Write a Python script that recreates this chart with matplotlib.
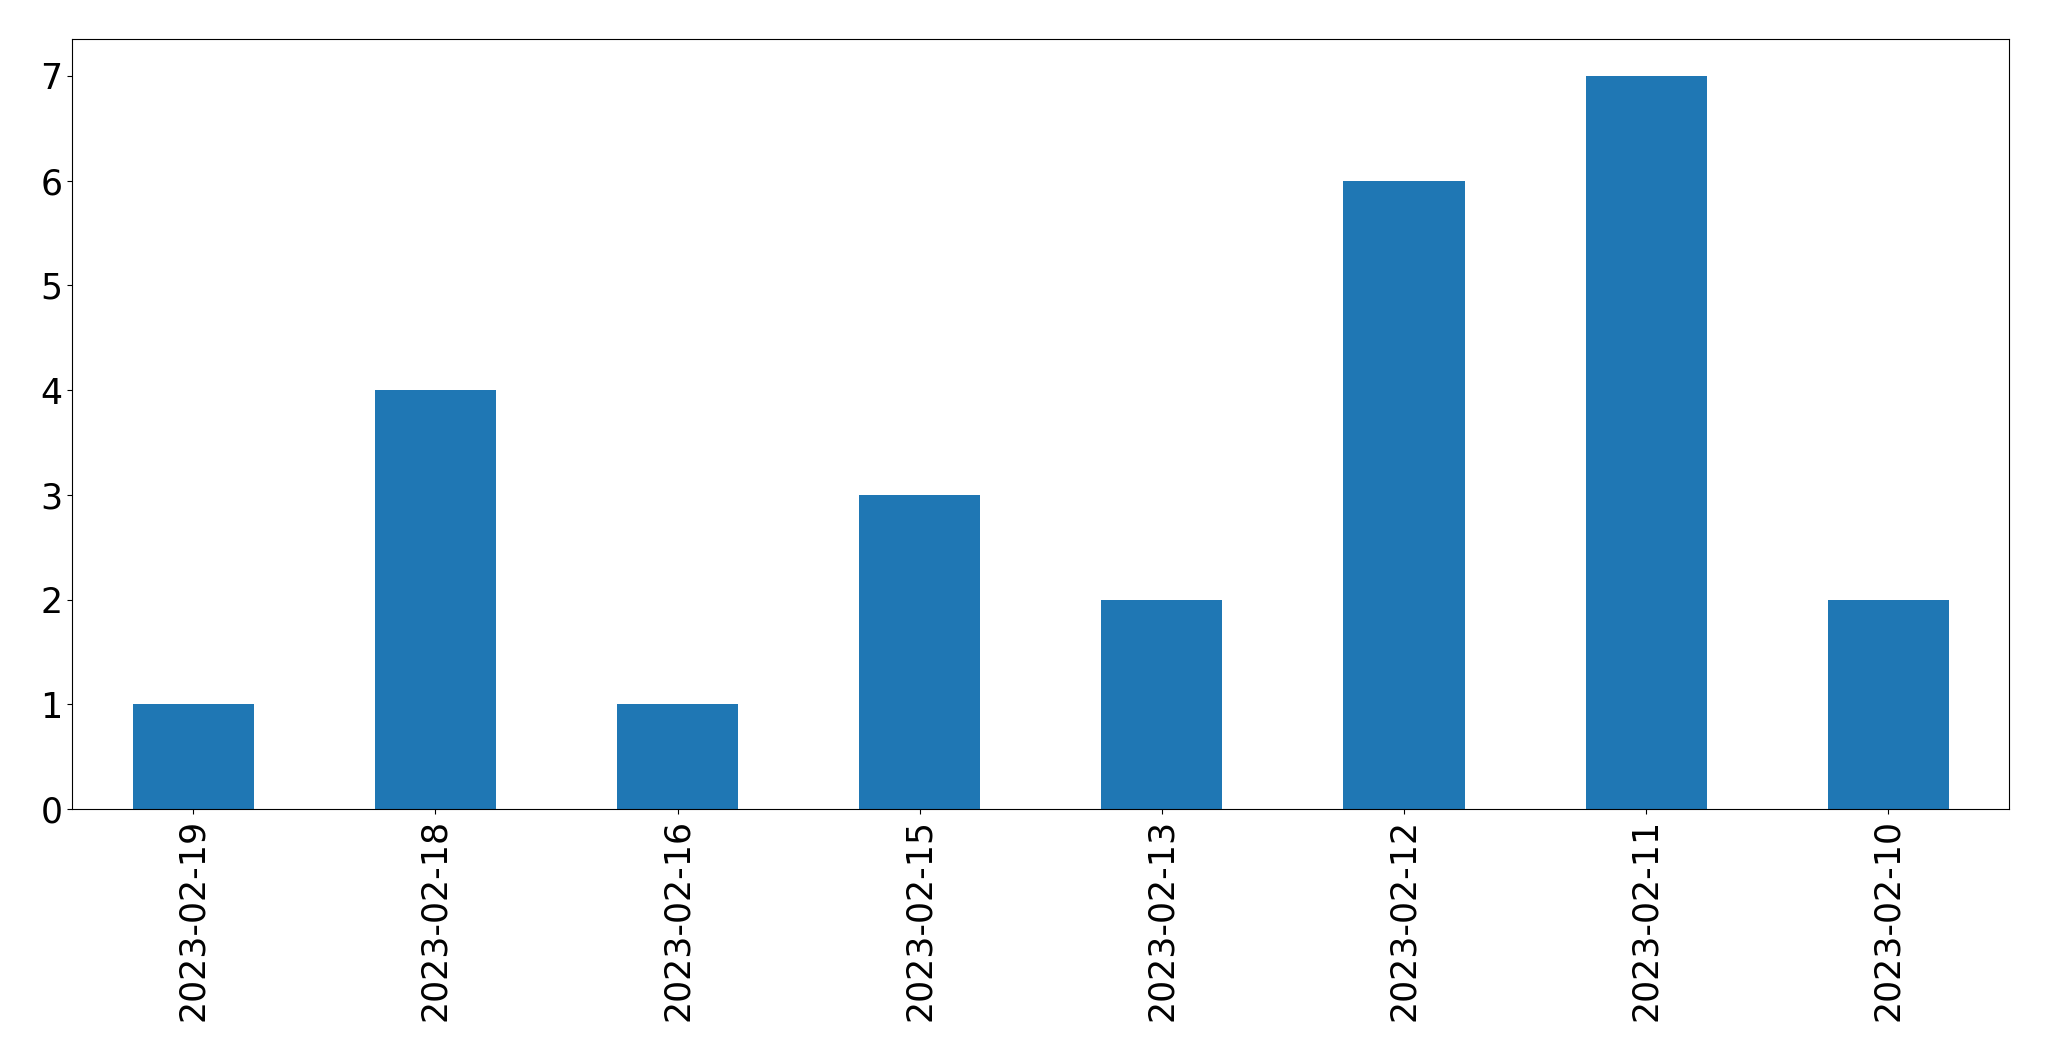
import matplotlib
matplotlib.use("Agg")
import matplotlib.pyplot as plt

dates = ["2023-02-19", "2023-02-18", "2023-02-16", "2023-02-15",
         "2023-02-13", "2023-02-12", "2023-02-11", "2023-02-10"]
counts = [1, 4, 1, 3, 2, 6, 7, 2]

fig = plt.figure(figsize=(20.49, 10.61), dpi=100)
ax = fig.add_axes([72.3/2049, 1-809/1061, (2009.3-72.3)/2049, (809-39.3)/1061])
x = list(range(len(dates)))
ax.bar(x, counts, width=0.5, color="#1f77b4")
ax.set_xlim(-0.5, len(dates)-0.5)
ax.set_ylim(0, 7.35)
ax.set_xticks(x)
ax.set_xticklabels(dates, rotation=90)
ax.tick_params(axis="both", labelsize=25)
fig.savefig("out.png", dpi=100)
